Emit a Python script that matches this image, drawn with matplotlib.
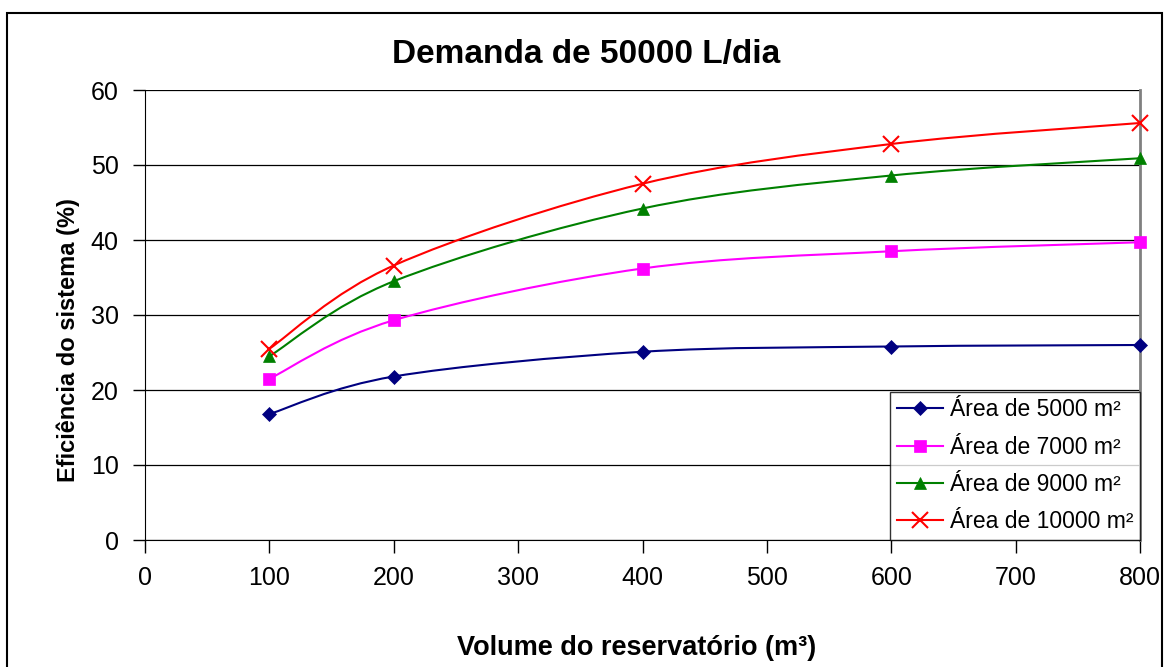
import numpy as np
import matplotlib
matplotlib.use("Agg")
import matplotlib.pyplot as plt
from matplotlib.path import Path
from matplotlib.patches import PathPatch, Rectangle

plt.rcParams['font.family'] = ['Liberation Sans', 'DejaVu Sans']

# volume do reservatorio (m3)
volumes = [100, 200, 400, 600, 800]

# eficiencia (%) para cada area de captacao
area_5000 = [16.8, 21.8, 25.1, 25.8, 26.0]
area_7000 = [21.5, 29.3, 36.2, 38.5, 39.7]
area_9000 = [24.5, 34.5, 44.2, 48.6, 50.9]
area_10000 = [25.5, 36.6, 47.5, 52.8, 55.6]

labels = ['Área de 5000 m²', 'Área de 7000 m²', 'Área de 9000 m²', 'Área de 10000 m²']
colors = ['#000080', '#FF00FF', '#008000', '#FF0000']
markers = ['D', 's', '^', 'x']
msizes = [7, 8, 9, 11]


def smooth_path(xs, ys):
    # curva suavizada (bezier cubica) passando pelos pontos
    p = np.column_stack([xs, ys]).astype(float)
    n = len(p)
    verts = [p[0]]
    codes = [Path.MOVETO]
    for i in range(n - 1):
        p0 = p[i - 1] if i > 0 else p[i]
        p3 = p[i + 2] if i + 2 < n else p[i + 1]
        c1 = p[i] + (p[i + 1] - p0) / 6.0
        c2 = p[i + 1] - (p3 - p[i]) / 6.0
        verts += [c1, c2, p[i + 1]]
        codes += [Path.CURVE4] * 3
    return Path(verts, codes)


fig = plt.figure(figsize=(11.65, 6.67), dpi=100)
ax = fig.add_axes([145 / 1165, 1 - 540 / 667, 995 / 1165, 450 / 667])

series = [area_5000, area_7000, area_9000, area_10000]
for vals, c, m, ms in zip(series, colors, markers, msizes):
    ax.add_patch(PathPatch(smooth_path(volumes, vals), facecolor='none',
                           edgecolor=c, lw=1.5, zorder=3))
    ax.plot(volumes, vals, linestyle='none', marker=m, color=c,
            markersize=ms, markeredgewidth=1.5 if m == 'x' else 0.5,
            zorder=4, clip_on=False)

# entradas da legenda com linha + marcador
leg_handles = [plt.Line2D([], [], color=c, lw=1.5, marker=m, markersize=ms,
                          markeredgewidth=1.5 if m == 'x' else 0.5)
               for c, m, ms in zip(colors, markers, msizes)]

ax.set_xlim(0, 800)
ax.set_ylim(0, 60)
ax.set_xticks(range(0, 801, 100))
ax.set_yticks(range(0, 61, 10))
ax.tick_params(labelsize=18, direction='out', length=9, width=1, pad=10)
ax.yaxis.grid(True, color='black', lw=0.9)
ax.set_axisbelow(True)
ax.spines['top'].set_visible(False)
ax.spines['right'].set_color('#808080')
ax.spines['right'].set_linewidth(2)

fig.text(586 / 1165, 1 - 55 / 667, 'Demanda de 50000 L/dia', fontsize=24,
         fontweight='bold', ha='center', va='center')
fig.text(637 / 1165, 1 - 648 / 667, 'Volume do reservatório (m³)', fontsize=19.5,
         fontweight='bold', ha='center', va='center')
fig.text(68 / 1165, 1 - 340 / 667, 'Eficiência do sistema (%)', fontsize=17,
         fontweight='bold', ha='center', va='center', rotation=90)

leg = ax.legend(leg_handles, labels, loc='lower right', bbox_to_anchor=(1.0, 0.0),
                fontsize=16.5, frameon=True, fancybox=False, handlelength=2.0,
                borderpad=0.3, labelspacing=0.62, handletextpad=0.3, borderaxespad=0)
leg.get_frame().set_edgecolor('black')
leg.get_frame().set_linewidth(1)

# moldura externa do grafico
fig.patches.append(Rectangle((7 / 1165, -0.05), 1155 / 1165, 1 - 13 / 667 + 0.05,
                             transform=fig.transFigure, fill=False,
                             edgecolor='black', lw=1.5))

fig.savefig('out.png', dpi=100)
